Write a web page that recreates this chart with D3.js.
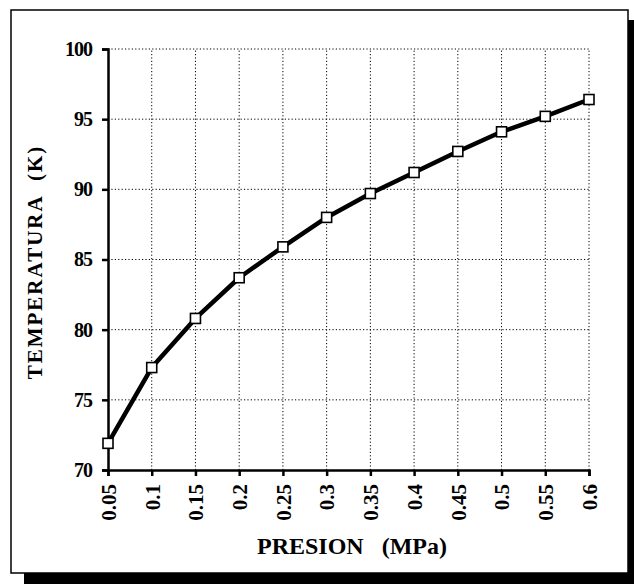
<!DOCTYPE html>
<html>
<head>
<meta charset="utf-8">
<script src="https://cdn.jsdelivr.net/npm/d3@7"></script>
<style>
  body { margin: 0; background: #fff; }
</style>
</head>
<body>
<div id="chart"></div>
<script>
const presion = [0.05, 0.1, 0.15, 0.2, 0.25, 0.3, 0.35, 0.4, 0.45, 0.5, 0.55, 0.6];
const temperatura = [71.9, 77.3, 80.8, 83.7, 85.9, 88.0, 89.7, 91.2, 92.7, 94.1, 95.2, 96.4];
const xTicks = [0.05, 0.1, 0.15, 0.2, 0.25, 0.3, 0.35, 0.4, 0.45, 0.5, 0.55, 0.6];
const yTicks = [70, 75, 80, 85, 90, 95, 100];

const width = 634,
  height = 584;

const font = "'Liberation Serif', 'Times New Roman', serif";

const svg = d3.select("#chart")
  .append("svg")
  .attr("width", width)
  .attr("height", height);

// shadow + frame
svg.append("rect")
  .attr("x", 24).attr("y", 20)
  .attr("width", width - 24).attr("height", height - 20)
  .attr("fill", "black");
svg.append("rect")
  .attr("x", 11).attr("y", 10)
  .attr("width", 617).attr("height", 563)
  .attr("fill", "white")
  .attr("stroke", "black")
  .attr("stroke-width", 1.5);

const x = d3.scaleLinear()
  .domain([0.05, 0.6])
  .range([108, 589]);

const y = d3.scaleLinear()
  .domain([70, 100])
  .range([470, 49]);

// grid
svg.append("g")
  .attr("stroke", "black")
  .attr("stroke-width", 1)
  .attr("stroke-dasharray", "1.2,2.2")
  .call(g => g.selectAll(".v")
    .data(xTicks.slice(1))
    .join("line")
    .attr("x1", d => x(d)).attr("x2", d => x(d))
    .attr("y1", y(70)).attr("y2", y(100)))
  .call(g => g.selectAll(".h")
    .data(yTicks.slice(1))
    .join("line")
    .attr("x1", x(0.05)).attr("x2", x(0.6))
    .attr("y1", d => y(d)).attr("y2", d => y(d)));

// axes
const xAxis = d3.axisBottom(x)
  .tickValues(xTicks)
  .tickSize(6)
  .tickFormat(d3.format("~g"));
const yAxis = d3.axisLeft(y)
  .tickValues(yTicks)
  .tickSize(6);

svg.append("g")
  .attr("transform", `translate(0,${y(70)})`)
  .call(xAxis)
  .call(g => g.select(".domain").attr("stroke-width", 2.5))
  .call(g => g.selectAll(".tick line").attr("stroke-width", 2.5))
  .call(g => g.selectAll(".tick text")
    .attr("font-family", font)
    .attr("font-weight", "bold")
    .attr("font-size", 21)
    .attr("fill", "black")
    .attr("text-anchor", "end")
    .attr("dy", "0.35em")
    .attr("transform", "rotate(-90)")
    .attr("x", -14)
    .attr("y", 0));

svg.append("g")
  .attr("transform", `translate(${x(0.05)},0)`)
  .call(yAxis)
  .call(g => g.select(".domain").attr("stroke-width", 2.5))
  .call(g => g.selectAll(".tick line").attr("stroke-width", 2.5))
  .call(g => g.selectAll(".tick text")
    .attr("font-family", font)
    .attr("font-weight", "bold")
    .attr("font-size", 20)
    .attr("fill", "black")
    .attr("letter-spacing", -1)
    .attr("x", -16));

// line
const pts = presion.map((p, i) => [p, temperatura[i]]);

svg.append("path")
  .datum(pts)
  .attr("fill", "none")
  .attr("stroke", "black")
  .attr("stroke-width", 4.5)
  .attr("stroke-linejoin", "round")
  .attr("d", d3.line().x(d => x(d[0])).y(d => y(d[1])));

svg.append("g")
  .selectAll("rect")
  .data(pts)
  .join("rect")
  .attr("x", d => x(d[0]) - 5)
  .attr("y", d => y(d[1]) - 5)
  .attr("width", 10)
  .attr("height", 10)
  .attr("fill", "white")
  .attr("stroke", "black")
  .attr("stroke-width", 1.6);

// labels
svg.append("text")
  .attr("x", 352)
  .attr("y", 554)
  .attr("text-anchor", "middle")
  .attr("font-family", font)
  .attr("font-weight", "bold")
  .attr("font-size", 24)
  .style("white-space", "pre")
  .text("PRESION   (MPa)");

svg.append("text")
  .attr("transform", "translate(42,262) rotate(-90)")
  .attr("text-anchor", "middle")
  .attr("font-family", font)
  .attr("font-weight", "bold")
  .attr("font-size", 21)
  .attr("letter-spacing", 2)
  .style("white-space", "pre")
  .text("TEMPERATURA  (K)");
</script>
</body>
</html>
